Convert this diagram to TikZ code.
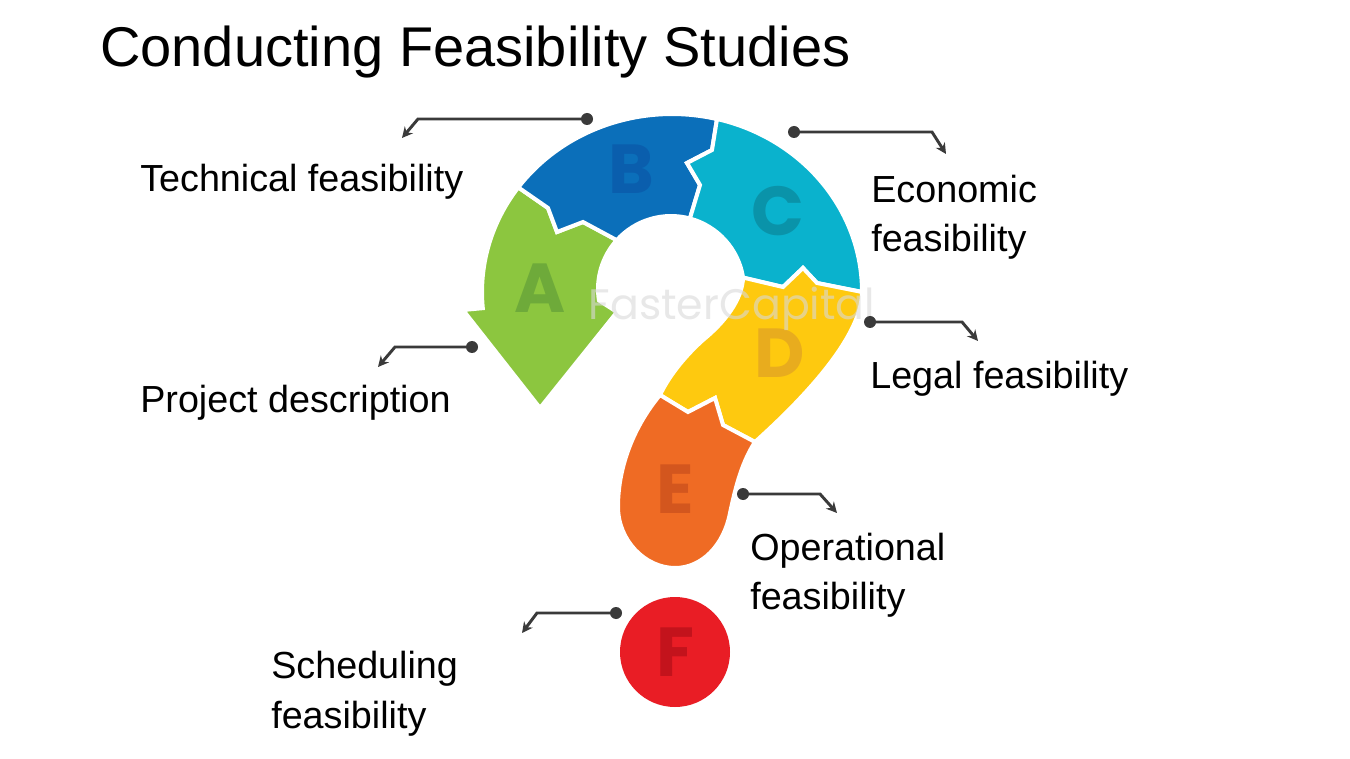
\documentclass[tikz,border=0pt]{standalone}
\usepackage{fontspec}
\setmainfont{Liberation Sans}
\newfontfamily\letterfont{Poppins}
\usetikzlibrary{arrows.meta,calc}
\definecolor{cA}{HTML}{8CC63F}
\definecolor{cAl}{HTML}{6EAA3A}
\definecolor{cB}{HTML}{0B6FBA}
\definecolor{cBl}{HTML}{0A5EAD}
\definecolor{cC}{HTML}{0AB2CD}
\definecolor{cCl}{HTML}{0A93A9}
\definecolor{cD}{HTML}{FEC90F}
\definecolor{cDl}{HTML}{E8AC1E}
\definecolor{cE}{HTML}{EF6B24}
\definecolor{cEl}{HTML}{D3561E}
\definecolor{cF}{HTML}{E91D25}
\definecolor{cFl}{HTML}{C3131C}
\definecolor{linec}{HTML}{3A3A3A}
\begin{document}
\begin{tikzpicture}[x=0.75pt,y=-0.75pt,
  seg/.style={draw=white,line width=3pt,line join=miter},
  conn/.style={draw=linec,line width=2.2pt,-{Stealth[length=8pt,width=8pt]}},
  dot/.style={circle,fill=linec,inner sep=0pt,minimum size=9pt},
  lab/.style={anchor=base west,inner sep=0pt,font=\fontsize{28.3}{36.75}\selectfont},
  letter/.style={inner sep=0pt,font=\letterfont\bfseries\fontsize{52}{52}\selectfont}]
\useasboundingbox[fill=white] (0,0) rectangle (1350,759);

% Title
\node[anchor=base west,inner sep=0pt,font=\fontsize{42}{42}\selectfont] (title) at (100,67) {Conducting Feasibility Studies};

% Segment A (green arrow)
\filldraw[seg,fill=cA] (518.3,187.4) arc[start angle=216,end angle=174.8,x radius=190,y radius=178]
  -- (463,310) -- (540,408) -- (617,312) -- (598.9,300.4)
  arc[start angle=171,end angle=222,radius=73]
  -- (583,222) -- (557,232) -- (548,208) -- cycle;
% Segment B (blue)
\filldraw[seg,fill=cB] (518.3,187.4) arc[start angle=216,end angle=283.7,x radius=190,y radius=178]
  -- (712,150) -- (687,163) -- (700,185) -- (689.9,218.5)
  arc[start angle=285,end angle=222,radius=73]
  -- (583,222) -- (557,232) -- (548,208) -- cycle;
% Segment C (cyan)
\filldraw[seg,fill=cC] (717,119) arc[start angle=283.7,end angle=360,x radius=190,y radius=178]
  -- (817,283) -- (803,268) -- (783,287) -- (743.1,277.6)
  arc[start angle=351,end angle=285,radius=73]
  -- (700,185) -- (687,163) -- (712,150) -- cycle;
% Segment D (yellow)
\filldraw[seg,fill=cD] (862,292) -- (817,283) -- (803,268) -- (783,287) -- (743.1,277.6)
  .. controls (742,300) and (725,322) .. (703,340)
  .. controls (683,358) and (668,378) .. (660,395)
  -- (688,412) -- (715,398) -- (723,425) -- (755,442)
  .. controls (795,406) and (862,340) .. (862,292) -- cycle;
% Segment E (orange)
\filldraw[seg,fill=cE] (660,395) -- (688,412) -- (715,398) -- (723,425) -- (755,442)
  .. controls (740,465) and (734,495) .. (730,513)
  .. controls (724,545) and (702,568) .. (675,568)
  .. controls (645,568) and (618,540) .. (618,507)
  .. controls (618,465) and (635,425) .. (660,395) -- cycle;

% Letters
\node[letter,text=cAl] (A) at (540,288) {A};
\node[letter,text=cBl] (B) at (631,169) {B};
\node[letter,text=cCl] (C) at (778,211) {C};
\node[letter,text=cDl] (D) at (780,353) {D};
\node[letter,text=cEl] (E) at (675,489) {E};
\node[letter,circle,fill=cF,minimum size=82.5pt,text=cFl] (F) at (675,652) {F};

% Watermark
\node[anchor=base,inner sep=0pt,text=gray!30,opacity=0.6,font=\letterfont\fontsize{32}{32}\selectfont] (wm) at (732,320) {FasterCapital};

% Connectors
\node[dot] (dB) at (587,119) {};
\coordinate (kB) at (418,119); \coordinate (tB) at (402,138);
\draw[conn] (dB.center) -- (kB) -- (tB);
\node[dot] (dC) at (794,132) {};
\coordinate (kC) at (932,132); \coordinate (tC) at (946,154);
\draw[conn] (dC.center) -- (kC) -- (tC);
\node[dot] (dA) at (472,347) {};
\coordinate (kA) at (395,347); \coordinate (tA) at (378,367);
\draw[conn] (dA.center) -- (kA) -- (tA);
\node[dot] (dD) at (870,322) {};
\coordinate (kD) at (962,322); \coordinate (tD) at (978,341);
\draw[conn] (dD.center) -- (kD) -- (tD);
\node[dot] (dE) at (743,494) {};
\coordinate (kE) at (820,494); \coordinate (tE) at (837,513);
\draw[conn] (dE.center) -- (kE) -- (tE);
\node[dot] (dF) at (616,613) {};
\coordinate (kF) at (537,613); \coordinate (tF) at (522,633);
\draw[conn] (dF.center) -- (kF) -- (tF);

% Labels
\node[lab] (lB) at (140,192) {Technical feasibility};
\node[lab] (lC1) at (871,203) {Economic};
\node[lab] (lC2) at (871,252) {feasibility};
\node[lab] (lA) at (140,412) {Project description};
\node[lab] (lD) at (870,388) {Legal feasibility};
\node[lab] (lE1) at (750,560) {Operational};
\node[lab] (lE2) at (750,609) {feasibility};
\node[lab] (lF1) at (271,678) {Scheduling};
\node[lab] (lF2) at (271,728) {feasibility};
\end{tikzpicture}
\end{document}
